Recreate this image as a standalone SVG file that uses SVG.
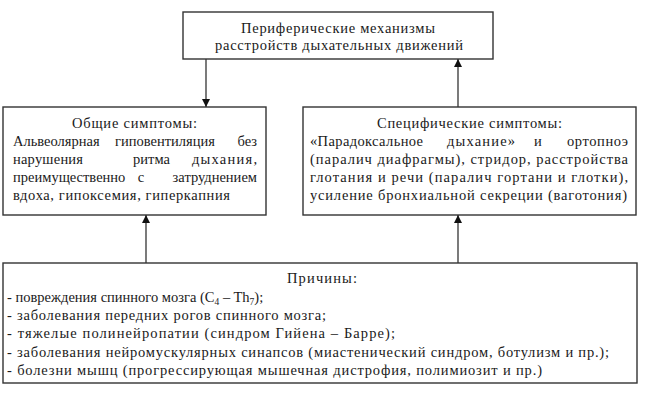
<svg xmlns="http://www.w3.org/2000/svg" width="660" height="399" viewBox="0 0 660 399">
<defs>
<marker id="ah" markerWidth="8" markerHeight="10" refX="8" refY="4" orient="auto" markerUnits="userSpaceOnUse">
<path d="M0,0 L8,4 L0,8 Z" fill="#111"/>
</marker>
<style>
.box{fill:#fff;stroke:#333;stroke-width:1.4}
.t{font-family:"Liberation Serif","DejaVu Serif","Times New Roman",serif;font-size:14.5px;fill:#1a1a1a}
.m{text-anchor:middle}
.e{text-anchor:end}
.ln{stroke:#333;stroke-width:1.3;fill:none}
</style>
</defs>
<rect width="660" height="399" fill="#fff"/>
<g id="top">
<rect class="box" x="183" y="12" width="310" height="47"/>
<text class="t" x="241" y="33" textLength="194" lengthAdjust="spacing">Периферические механизмы</text>
<text class="t" x="215" y="50" textLength="248" lengthAdjust="spacing">расстройств дыхательных движений</text>
</g>
<g id="general">
<rect class="box" x="3" y="107" width="263" height="108"/>
<text class="t" x="72" y="128" textLength="125" lengthAdjust="spacing">Общие симптомы:</text>
<text class="t" x="13" y="146">Альвеолярная</text>
<text class="t m" x="165" y="146">гиповентиляция</text>
<text class="t e" x="257" y="146">без</text>
<text class="t" x="13" y="164" textLength="70" lengthAdjust="spacing">нарушения</text>
<text class="t" x="133" y="164" textLength="37" lengthAdjust="spacing">ритма</text>
<text class="t" x="192" y="164" textLength="65" lengthAdjust="spacing">дыхания,</text>
<text class="t" x="13" y="182">преимущественно</text>
<text class="t m" x="141" y="182">с</text>
<text class="t e" x="257" y="182">затруднением</text>
<text class="t" x="13" y="200" textLength="217" lengthAdjust="spacing">вдоха, гипоксемия, гиперкапния</text>
</g>
<g id="specific">
<rect class="box" x="303" y="107" width="333" height="108"/>
<text class="t" x="377" y="128" textLength="185" lengthAdjust="spacing">Специфические симптомы:</text>
<text class="t" x="310" y="146" textLength="113" lengthAdjust="spacing">«Парадоксальное</text>
<text class="t" x="447" y="146" textLength="68" lengthAdjust="spacing">дыхание»</text>
<text class="t m" x="538" y="146">и</text>
<text class="t" x="567" y="146" textLength="61" lengthAdjust="spacing">ортопноэ</text>
<text class="t" x="310" y="164" textLength="318" lengthAdjust="spacing">(паралич диафрагмы), стридор, расстройства</text>
<text class="t" x="310" y="182" textLength="318" lengthAdjust="spacing">глотания и речи (паралич гортани и глотки),</text>
<text class="t" x="310" y="200" textLength="317" lengthAdjust="spacing">усиление бронхиальной секреции (ваготония)</text>
</g>
<g id="causes">
<rect class="box" x="3" y="263" width="634" height="120"/>
<text class="t" x="287" y="283" textLength="70" lengthAdjust="spacing">Причины:</text>
<text class="t" x="7" y="302">- повреждения спинного мозга (C<tspan dy="3" style="font-size:9.5px">4</tspan><tspan dy="-3"> – Th</tspan><tspan dy="3" style="font-size:9.5px">7</tspan><tspan dy="-3">);</tspan></text>
<text class="t" x="7" y="320" textLength="319" lengthAdjust="spacing">- заболевания передних рогов спинного мозга;</text>
<text class="t" x="7" y="338" textLength="388" lengthAdjust="spacing">- тяжелые полинейропатии (синдром Гийена – Барре);</text>
<text class="t" x="7" y="357" textLength="602" lengthAdjust="spacing">- заболевания нейромускулярных синапсов (миастенический синдром, ботулизм и пр.);</text>
<text class="t" x="7" y="375" textLength="535" lengthAdjust="spacing">- болезни мышц (прогрессирующая мышечная дистрофия, полимиозит и пр.)</text>
</g>
<g id="connectors">
<line class="ln" x1="206" y1="59" x2="206" y2="107" marker-end="url(#ah)"/>
<line class="ln" x1="458" y1="107" x2="458" y2="59" marker-end="url(#ah)"/>
<line class="ln" x1="146" y1="263" x2="146" y2="215" marker-end="url(#ah)"/>
<line class="ln" x1="458" y1="263" x2="458" y2="215" marker-end="url(#ah)"/>
</g>
</svg>
